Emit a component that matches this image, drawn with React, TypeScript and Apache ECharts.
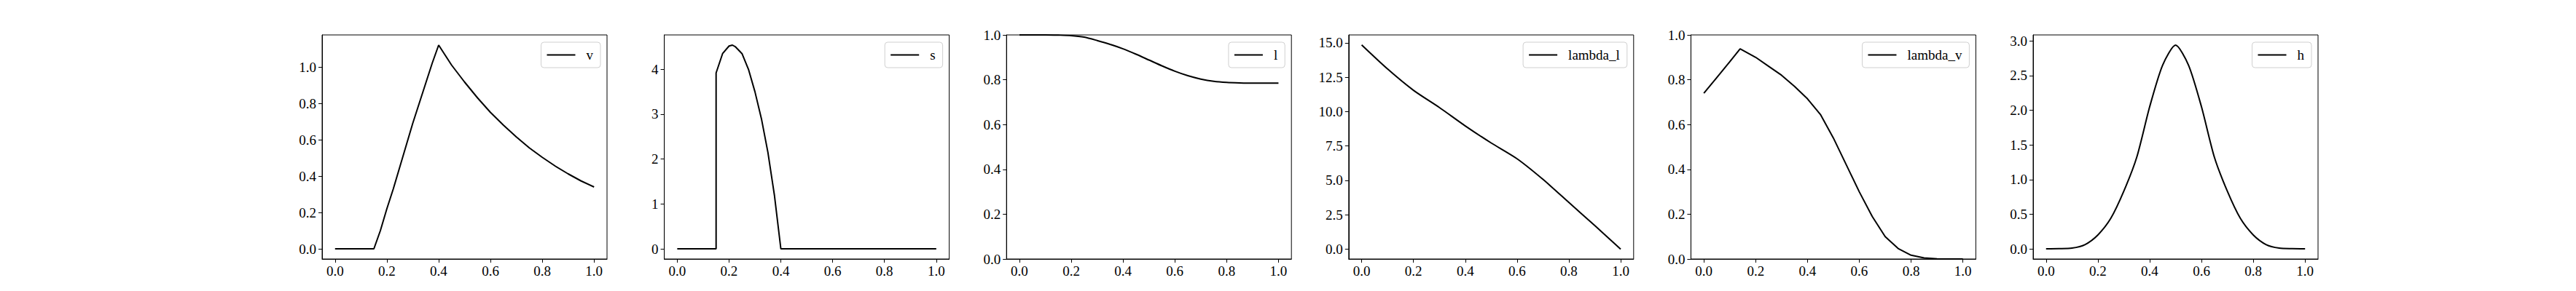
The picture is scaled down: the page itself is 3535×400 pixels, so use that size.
import React, { useEffect, useRef } from 'react';
import * as echarts from 'echarts';

// data
const vX = [0, 0.15, 0.175, 0.2, 0.225, 0.25, 0.275, 0.3, 0.325, 0.35, 0.375, 0.4, 0.45, 0.5, 0.55, 0.6, 0.65, 0.7, 0.75, 0.8, 0.85, 0.9, 0.95, 1.0];
const vY = [0, 0, 0.1, 0.22, 0.33, 0.45, 0.57, 0.69, 0.8, 0.91, 1.02, 1.12, 1.01, 0.917, 0.83, 0.75, 0.68, 0.615, 0.555, 0.503, 0.455, 0.412, 0.373, 0.34];

const sX = [0, 0.15, 0.15, 0.175, 0.2, 0.213, 0.225, 0.25, 0.275, 0.3, 0.325, 0.35, 0.375, 0.4, 1.0];
const sY = [0, 0, 3.92, 4.35, 4.52, 4.54, 4.5, 4.35, 4.0, 3.5, 2.9, 2.15, 1.2, 0, 0];

const step05 = [0, 0.05, 0.1, 0.15, 0.2, 0.25, 0.3, 0.35, 0.4, 0.45, 0.5, 0.55, 0.6, 0.65, 0.7, 0.75, 0.8, 0.85, 0.9, 0.95, 1.0];
const lY = [1, 1, 1, 0.999, 0.997, 0.99, 0.975, 0.958, 0.938, 0.914, 0.888, 0.862, 0.838, 0.818, 0.803, 0.793, 0.788, 0.786, 0.785, 0.785, 0.785];

const lamLX = [0, 0.1, 0.2, 0.3, 0.4, 0.5, 0.6, 0.7, 0.8, 0.9, 1.0];
const lamLY = [14.85, 13.1, 11.55, 10.3, 8.96, 7.72, 6.57, 5.07, 3.39, 1.71, 0];

const lamVX = [0, 0.05, 0.1, 0.14, 0.2, 0.25, 0.3, 0.35, 0.4, 0.45, 0.5, 0.55, 0.6, 0.65, 0.7, 0.75, 0.8, 0.85, 0.9, 0.95, 1.0];
const lamVY = [0.74, 0.81, 0.88, 0.938, 0.9, 0.86, 0.82, 0.77, 0.715, 0.645, 0.54, 0.42, 0.3, 0.19, 0.1, 0.047, 0.017, 0.005, 0.001, 0, 0];

const hY = [0, 0.002, 0.01, 0.06, 0.2, 0.44, 0.83, 1.32, 2.05, 2.65, 2.94, 2.65, 2.05, 1.32, 0.83, 0.44, 0.2, 0.06, 0.01, 0.002, 0];

const xTicks = [0, 0.2, 0.4, 0.6, 0.8, 1.0];

const panels = [
  { name: 'v', xs: vX, ys: vY, min: -0.056, max: 1.176, ticks: [0, 0.2, 0.4, 0.6, 0.8, 1.0], dec: 1, smooth: false },
  { name: 's', xs: sX, ys: sY, min: -0.227, max: 4.767, ticks: [0, 1, 2, 3, 4], dec: 0, smooth: false },
  { name: 'l', xs: step05, ys: lY, min: 0, max: 1, ticks: [0, 0.2, 0.4, 0.6, 0.8, 1.0], dec: 1, smooth: true },
  { name: 'lambda_l', xs: lamLX, ys: lamLY, min: -0.72, max: 15.58, ticks: [0, 2.5, 5, 7.5, 10, 12.5, 15], dec: 1, smooth: true },
  { name: 'lambda_v', xs: lamVX, ys: lamVY, min: 0, max: 1, ticks: [0, 0.2, 0.4, 0.6, 0.8, 1.0], dec: 1, smooth: false },
  { name: 'h', xs: step05, ys: hY, min: -0.147, max: 3.087, ticks: [0, 0.5, 1, 1.5, 2, 2.5, 3], dec: 1, smooth: true },
];

const FONT = '"Liberation Serif", "Times New Roman", serif';
const W = 3535;
const H = 400;

export default function App() {
  const ref = useRef<HTMLDivElement>(null);

  useEffect(() => {
    document.body.style.margin = '0';
    if (!ref.current) return;
    const chart = echarts.init(ref.current, null, { renderer: 'svg' });

    const left0 = 442;
    const stepX = 469.6;
    const gw = 391;
    const top = 48;
    const gh = 308;

    const label = (dec: number) => ({
      color: '#000',
      fontFamily: FONT,
      fontSize: 19,
      formatter: (v: number) => v.toFixed(dec),
    });

    chart.setOption({
      animation: false,
      grid: panels.map((_, i) => ({
        left: left0 + i * stepX,
        top,
        width: gw,
        height: gh,
        show: true,
        borderColor: '#000',
        borderWidth: 1,
        backgroundColor: '#fff',
      })),
      xAxis: panels.map((_, i) => ({
        type: 'value',
        gridIndex: i,
        min: -0.05,
        max: 1.05,
        axisLine: { show: true, onZero: false, lineStyle: { color: '#000', width: 1 } },
        axisTick: { show: true, length: 5, customValues: xTicks, lineStyle: { color: '#000' } },
        axisLabel: { ...label(1), margin: 7, customValues: xTicks },
        splitLine: { show: false },
      })),
      yAxis: panels.map((p, i) => ({
        type: 'value',
        gridIndex: i,
        min: p.min,
        max: p.max,
        axisLine: { show: true, onZero: false, lineStyle: { color: '#000', width: 1 } },
        axisTick: { show: true, length: 5, customValues: p.ticks, lineStyle: { color: '#000' } },
        axisLabel: { ...label(p.dec), margin: 8, customValues: p.ticks },
        splitLine: { show: false },
      })),
      legend: panels.map((p, i) => ({
        data: [p.name],
        right: W - (left0 + i * stepX + gw) + 9,
        top: top + 10,
        icon: 'rect',
        itemWidth: 39,
        itemHeight: 2,
        itemGap: 0,
        padding: [8, 10, 8, 8],
        backgroundColor: '#fff',
        borderColor: '#d0d0d0',
        borderWidth: 1,
        borderRadius: 4,
        textStyle: { color: '#000', fontFamily: FONT, fontSize: 19, padding: [0, 0, 0, 10] },
      })),
      series: panels.map((p, i) => ({
        name: p.name,
        type: 'line',
        xAxisIndex: i,
        yAxisIndex: i,
        data: p.xs.map((x, j) => [x, p.ys[j]]),
        showSymbol: false,
        smooth: p.smooth ? 0.25 : false,
        lineStyle: { color: '#000', width: 2 },
        itemStyle: { color: '#000' },
      })),
    });

    return () => chart.dispose();
  }, []);

  return <div ref={ref} style={{ width: W, height: H, background: '#fff' }} />;
}
